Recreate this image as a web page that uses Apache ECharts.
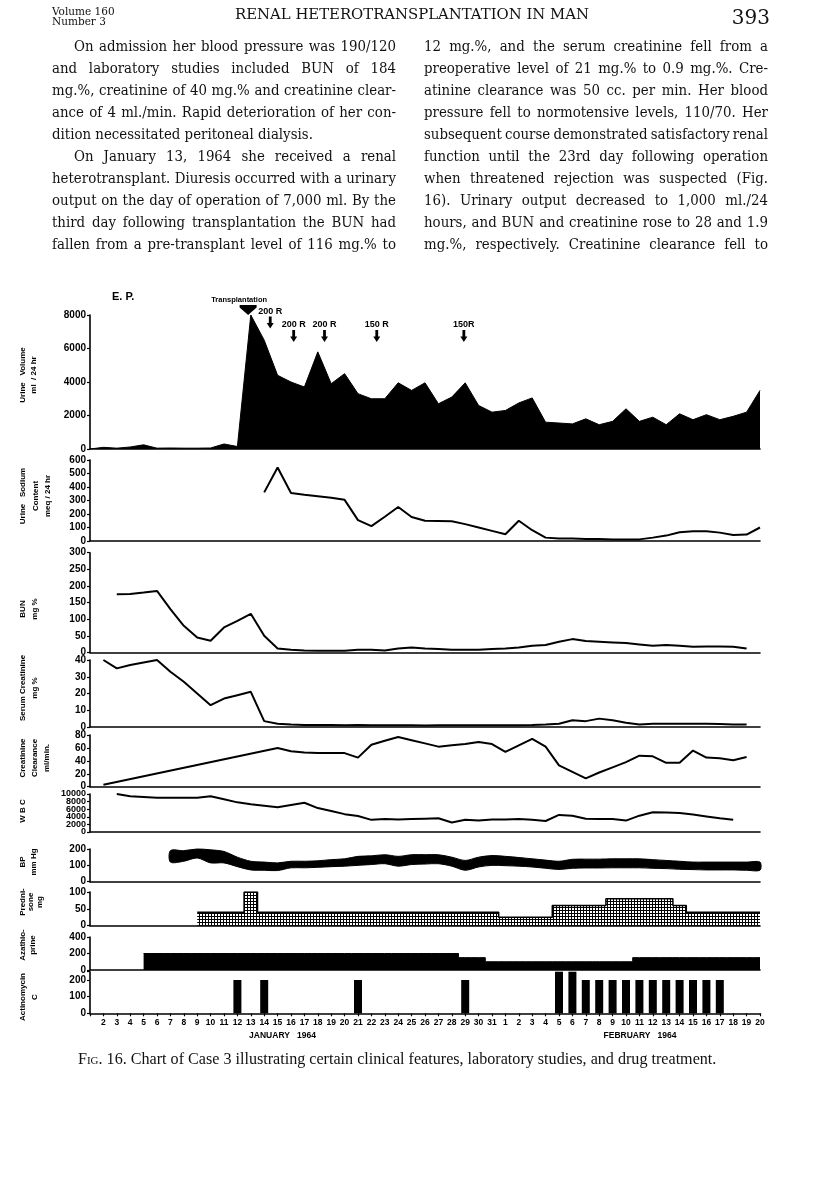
<!DOCTYPE html>
<html><head><meta charset="utf-8">
<script src="https://cdn.jsdelivr.net/npm/echarts@6/dist/echarts.min.js"></script>
<style>
html,body{margin:0;padding:0;background:#fff;}
#wrap{position:relative;width:816px;height:1195px;overflow:hidden;background:#fff;}
#chart{position:absolute;left:0;top:0;width:816px;height:1195px;}
.tx{position:absolute;white-space:nowrap;color:#111;z-index:5;transform-origin:0 50%;}
</style></head>
<body><div id="wrap"><div id="chart"></div></div>
<script>
// ---------------- DATA ----------------
// day index: Jan d -> d, Feb d -> 31 + d
const dayLabels = ['', '2','3','4','5','6','7','8','9','10','11','12','13','14','15','16','17','18','19','20','21','22','23','24','25','26','27','28','29','30','31',
  '1','2','3','4','5','6','7','8','9','10','11','12','13','14','15','16','17','18','19','20'];
const monthLabels = ['JANUARY   1964', 'FEBRUARY   1964'];
const wbcTickLabels = [0, 2000, 4000, 6000, 8000, 10000];

// Urine volume ml/24hr, Jan 1 .. Feb 20
const urineVolume = [0,100,50,120,250,50,60,50,50,60,300,150,8000,6500,4400,4000,3700,5800,3900,4500,3300,3000,3000,3950,3500,3950,2700,3100,3950,2600,2200,
  2300,2750,3050,1600,1550,1500,1800,1450,1650,2400,1650,1900,1450,2100,1750,2050,1750,1950,2200,3500];
const urineVolumeStart = 1;

// Urine sodium meq/24hr, Jan 14 .. Feb 20
const urineSodium = [360,545,355,343,332,320,305,155,110,180,252,178,150,148,146,125,100,75,
  50,150,80,25,18,18,15,15,12,12,12,25,40,65,72,72,62,45,48,100];
const urineSodiumStart = 14;

// BUN mg %, Jan 3 .. Feb 19
const bun = [175,176,180,185,130,80,45,35,75,95,116,50,12,8,6,5,5,5,8,8,6,12,15,12,10,8,8,8,10,
  12,15,20,22,32,40,34,32,30,28,24,20,22,20,17,18,18,17,12];
const bunStart = 3;

// Serum creatinine mg %, Jan 2 .. Feb 19
const serumCreatinine = [40,35,37,38.5,40,33,27,20,13,17,19,21,3.5,2,1.5,1.2,1.2,1.2,1.1,1.2,1,1,1,1,0.9,1,1,1,1,1,
  1,1,1.2,1.5,1.9,4,3.5,5,4,2.5,1.5,2,2,2,2,2,1.8,1.5,1.5];
const serumCreatinineStart = 2;

// Creatinine clearance ml/min (measured days)
const clearanceDays = [2,15,16,17,18,19,20,21,22,23,24,25,26,27,28,29,30,31,32,33,34,35,36,37,38,39,40,41,42,43,44,45,46,47,48,49,50];
const clearanceValues = [3,60,55,53,52,52,52,45,65,71,77,72,67,62,64,66,69,66,54,64,74,62,33,23,13,22,30,38,48,47,37,37,56,45,44,41,46];

// WBC, Jan 3 .. Feb 18
const wbc = [10000,9400,9200,9000,9000,9000,9000,9400,8600,7800,7300,6900,6500,7100,7700,6300,5500,4700,4200,3200,3400,3300,3400,3500,3600,2500,3200,3000,3300,
  3300,3400,3200,2900,4500,4300,3500,3400,3400,3000,4300,5200,5100,5000,4600,4100,3600,3200];
const wbcStart = 3;

// Blood pressure mm Hg, Jan 7 .. Feb 20
const bpSystolic = [190,190,200,195,185,150,125,120,115,125,125,128,135,140,155,158,165,155,165,165,165,150,130,150,160,
  155,148,140,132,125,137,138,138,140,140,140,135,130,125,120,120,120,120,120,120];
const bpDiastolic = [120,125,145,115,115,92,72,70,68,85,85,88,92,95,100,105,110,95,105,108,110,95,70,90,100,
  98,95,90,82,75,82,84,84,85,85,85,82,80,76,74,72,72,72,70,70];
const bpStart = 7;

// Prednisone mg, Jan 9 .. Feb 20
const prednisone = [40,40,40,40,100,40,40,40,40,40,40,40,40,40,40,40,40,40,40,40,40,40,40,
  25,25,25,25,60,60,60,60,80,80,80,80,80,60,40,40,40,40,40,40];
const prednisoneStart = 9;

// Azathioprine mg, Jan 5 .. Feb 20
const azathioprine = [200,200,200,200,200,200,200,200,200,200,200,200,200,200,200,200,200,200,200,200,200,200,200,200,150,150,
  100,100,100,100,100,100,100,100,100,100,100,150,150,150,150,150,150,150,150,150,150];
const azathioprineStart = 5;

// Actinomycin C
const actinomycinDays = [12,14,21,29,36,37,38,39,40,41,42,43,44,45,46,47,48];
const actinomycinDoses = [200,200,200,200,250,250,200,200,200,200,200,200,200,200,200,200,200];

// X-ray annotations
const radiationLabels = ['200 R','200 R','200 R','150 R','150R'];
const radiationDays = [14.45,16.2,18.5,22.4,28.9];
const transplantDay = 12.8;

// ---------------- HELPERS ----------------
function pairs(start, arr){ return arr.map((v,i)=>[start+i, v]); }
const SANS = '"Liberation Sans", Arial, sans-serif';

// stipple (halftone) pattern for prednisone
const pc = document.createElement('canvas'); pc.width = 3; pc.height = 3;
const pg = pc.getContext('2d');
pg.fillStyle = '#fff'; pg.fillRect(0,0,3,3);
pg.fillStyle = '#000';
[[1,0],[0,1],[1,1],[2,1],[1,2]].forEach(p=>pg.fillRect(p[0],p[1],1,1));

// ---------------- LAYOUT ----------------
const WBC = 5;
const panels = [
  {top:315,   h:134,  max:8000,  interval:2000},
  {top:460,   h:81,   max:600,   interval:100},
  {top:552.7, h:99.7, max:300,   interval:50},
  {top:660,   h:67,   max:40,    interval:10},
  {top:735,   h:51.7, max:80,    interval:20},
  {top:794,   h:38,   max:10000, interval:2000},
  {top:849,   h:32.7, max:200,   interval:100},
  {top:892,   h:33.7, max:100,   interval:50},
  {top:937,   h:33,   max:400,   interval:200},
  {top:971.7, h:41.6, max:250,   interval:100, hideOdd:true}
];
const last = panels.length - 1;

const grid = panels.map(p=>({left:90, width:670, top:p.top, height:p.h, containLabel:false}));
const xAxis = panels.map((p,i)=>({
  gridIndex:i, type:'value', min:1, max:51, interval:1, z:5,
  axisLine:{show:true, onZero:false, lineStyle:{color:'#000', width:1.6}},
  axisTick:{show:i===last, length:3, lineStyle:{color:'#000', width:1.2}},
  axisLabel:{show:i===last, interval:0, margin:5, fontSize:8.5, fontWeight:'bold', color:'#000', fontFamily:SANS,
    showMinLabel:true, showMaxLabel:true, formatter:v=>dayLabels[Math.round(v)-1] || ''},
  splitLine:{show:false}
}));
const yAxis = panels.map((p,i)=>({
  gridIndex:i, type:'value', min:0, max:p.max, interval:p.interval,
  axisLine:{show:true, lineStyle:{color:'#000', width:1.6}},
  axisTick:{show:true, length:3, lineStyle:{color:'#000', width:1.2}},
  axisLabel:{show:i!==WBC, margin:4, fontSize:10, fontWeight:'bold', color:'#000', fontFamily:SANS,
    showMinLabel:true, showMaxLabel:true, hideOverlap:false,
    formatter:v=> (p.hideOdd && v % p.interval) ? '' : String(v)},
  splitLine:{show:false}
}));

const lineBase = (i, data) => ({type:'line', xAxisIndex:i, yAxisIndex:i, data, symbol:'none',
  lineStyle:{color:'#000', width:2}, itemStyle:{color:'#000'}});

const arrowPath = 'path://M3,0L7,0L7,7L10,7L5,13L0,7L3,7Z';
const markData = [{
  name:'Transplantation', coord:[transplantDay, 8000], symbol:'path://M0,0L24,0L24,3L12,12L0,3Z',
  symbolSize:[17,10], symbolOffset:[0,-5],
  label:{show:true, position:'top', distance:1, offset:[-9,0], formatter:'{b}', fontSize:7.5, fontWeight:'bold', color:'#000', fontFamily:SANS}
}].concat(radiationDays.map((d,i)=>({
  name:radiationLabels[i], coord:[d, i===0 ? 7550 : 6750], symbol:arrowPath, symbolSize:[7,12],
  label:{show:true, position:'top', distance:1, formatter:'{b}', fontSize:9, fontWeight:'bold', color:'#000', fontFamily:SANS}
})));

const series = [
  Object.assign(lineBase(0, pairs(urineVolumeStart, urineVolume)), {
    lineStyle:{color:'#000', width:1}, areaStyle:{color:'#000', opacity:1},
    markPoint:{silent:true, itemStyle:{color:'#000'}, data:markData}
  }),
  lineBase(1, pairs(urineSodiumStart, urineSodium)),
  lineBase(2, pairs(bunStart, bun)),
  lineBase(3, pairs(serumCreatinineStart, serumCreatinine)),
  lineBase(4, clearanceDays.map((d,i)=>[d, clearanceValues[i]])),
  lineBase(5, pairs(wbcStart, wbc)),
  {type:'custom', xAxisIndex:6, yAxisIndex:6, data:pairs(bpStart, bpSystolic), encode:{x:0, y:1}, clip:false,
    renderItem:(params, api)=>{
      if (params.dataIndex !== 0) return null;
      const topPts = bpSystolic.map((v,i)=>api.coord([bpStart+i, v]));
      const botPts = bpDiastolic.map((v,i)=>api.coord([bpStart+i, v])).reverse();
      return {type:'polygon', shape:{points:topPts.concat(botPts), smooth:0.3},
        style:{fill:'#000', stroke:'#000', lineWidth:1}};
    }},
  Object.assign(lineBase(7, pairs(prednisoneStart, prednisone)), {step:'middle', lineStyle:{color:'#000', width:1.5},
    areaStyle:{color:{image:pc, repeat:'repeat'}, opacity:1}}),
  Object.assign(lineBase(8, pairs(azathioprineStart, azathioprine)), {step:'middle', lineStyle:{color:'#000', width:1},
    areaStyle:{color:'#000', opacity:1}}),
  {type:'bar', xAxisIndex:9, yAxisIndex:9, barWidth:8, itemStyle:{color:'#000'},
    data:actinomycinDays.map((d,i)=>[d, actinomycinDoses[i]])}
];

// axis names (rotated) and other chart texts
const axisNames = [
  {t:'Urine   Volume\nml  / 24 hr', x:28.5, y:375, lh:11},
  {t:'Urine   Sodium\nContent\nmeq / 24 hr', x:35.5, y:496, lh:12.5},
  {t:'BUN\nmg %', x:29, y:609, lh:12},
  {t:'Serum Creatinine\nmg %', x:29, y:688, lh:12},
  {t:'Creatinine\nClearance\nml/min.', x:35, y:758, lh:12},
  {t:'W B C', x:23, y:811, lh:12},
  {t:'BP\nmm Hg', x:28.5, y:862, lh:11},
  {t:'Predni-\nsone\nmg', x:31, y:902, lh:8.5},
  {t:'Azathio-\nprine', x:28, y:945, lh:10},
  {t:'Actinomycin\nC', x:29, y:997, lh:12}
];
const graphic = axisNames.map(n=>({
  type:'text', x:n.x, y:n.y, rotation:Math.PI/2, silent:true,
  style:{text:n.t, font:'bold 8px '+SANS, fill:'#000', align:'center', verticalAlign:'middle',
    textAlign:'center', textVerticalAlign:'middle', lineHeight:n.lh}
})).concat([
  {type:'text', x:112, y:297, silent:true, style:{text:'E. P.', font:'bold 11px '+SANS, fill:'#000', align:'left', verticalAlign:'middle', textAlign:'left', textVerticalAlign:'middle'}},
  {type:'text', x:282.5, y:1036, silent:true, style:{text:monthLabels[0], font:'bold 8.5px '+SANS, fill:'#000', align:'center', verticalAlign:'middle', textAlign:'center', textVerticalAlign:'middle'}},
  {type:'text', x:640, y:1036, silent:true, style:{text:monthLabels[1], font:'bold 8.5px '+SANS, fill:'#000', align:'center', verticalAlign:'middle', textAlign:'center', textVerticalAlign:'middle'}}
]);

const chart = echarts.init(document.getElementById('chart'), null, {renderer:'canvas'});
chart.setOption({animation:false, backgroundColor:'#fff', grid, xAxis, yAxis, series, graphic});

// WBC tick labels overlap in the original: place them at the axis' own tick positions
const wbcLabelGraphics = wbcTickLabels.map(v=>({
  type:'text', x:86, y:chart.convertToPixel({yAxisIndex:WBC}, v), silent:true,
  style:{text:String(v), font:'bold 9px '+SANS, fill:'#000', align:'right', verticalAlign:'middle',
    textAlign:'right', textVerticalAlign:'middle'}
}));
chart.setOption({graphic: graphic.concat(wbcLabelGraphics)});

// ---------------- PAGE TEXT ----------------
const wrap = document.getElementById('wrap');
const SERIF = '"DejaVu Serif", "Liberation Serif", serif';
const TIMES = '"Liberation Serif", "DejaVu Serif", serif';
function makeDiv(html, family, size){
  const d = document.createElement('div');
  d.className = 'tx';
  d.innerHTML = html;
  d.style.fontFamily = family;
  d.style.fontSize = size + 'px';
  d.style.lineHeight = (size*1.2) + 'px';
  wrap.appendChild(d);
  return d;
}
function place(d, x, yc, size, align){
  const w = d.getBoundingClientRect().width;
  let left = x;
  if (align === 'center') left = x - w/2;
  if (align === 'right') left = x - w;
  d.style.left = left + 'px';
  d.style.top = (yc - size*0.6) + 'px';
}
function fitText(html, family, x, yc, width, baseSize, align){
  const d = makeDiv(html, family, baseSize);
  const w = d.getBoundingClientRect().width;
  const size = baseSize * width / w;
  d.style.fontSize = size + 'px';
  d.style.lineHeight = (size*1.2) + 'px';
  place(d, x, yc, size, align);
  return d;
}
// a line drawn at a given size, horizontally condensed by sx, optionally justified to width
function bodyLine(text, family, x, yc, width, size, sx, justify){
  const d = makeDiv(text, family, size);
  const w = d.getBoundingClientRect().width;
  if (justify){
    const spaces = (text.match(/ /g) || []).length;
    if (spaces) d.style.wordSpacing = ((width / sx - w)/spaces) + 'px';
  }
  d.style.transform = 'scaleX(' + sx + ')';
  d.style.left = x + 'px';
  d.style.top = (yc - size*0.6) + 'px';
}

makeDiv('Volume 160', SERIF, 10.5).style.cssText += 'left:52px;top:6px;line-height:11px;';
makeDiv('Number 3', SERIF, 10.5).style.cssText += 'left:52px;top:16px;line-height:11px;';
fitText('RENAL HETEROTRANSPLANTATION IN MAN', SERIF, 412, 15, 354, 14, 'center');
place(makeDiv('393', SERIF, 20), 770, 17, 20, 'right');

const leftLines = [
  'On admission her blood pressure was 190/120',
  'and laboratory studies included BUN of 184',
  'mg.%, creatinine of 40 mg.% and creatinine clear-',
  'ance of 4 ml./min. Rapid deterioration of her con-',
  'dition necessitated peritoneal dialysis.',
  'On January 13, 1964 she received a renal',
  'heterotransplant. Diuresis occurred with a urinary',
  'output on the day of operation of 7,000 ml. By the',
  'third day following transplantation the BUN had',
  'fallen from a pre-transplant level of 116 mg.% to'
];
const rightLines = [
  '12 mg.%, and the serum creatinine fell from a',
  'preoperative level of 21 mg.% to 0.9 mg.%. Cre-',
  'atinine clearance was 50 cc. per min. Her blood',
  'pressure fell to normotensive levels, 110/70. Her',
  'subsequent course demonstrated satisfactory renal',
  'function until the 23rd day following operation',
  'when threatened rejection was suspected (Fig.',
  '16). Urinary output decreased to 1,000 ml./24',
  'hours, and BUN and creatinine rose to 28 and 1.9',
  'mg.%, respectively. Creatinine clearance fell to'
];
const colW = 344, lx = 52, rx = 424, indent = 22, ly0 = 46, lstep = 22, fsz = 15;
// horizontal condensing so that the densest line just fits its column (tight word gaps)
let maxRatio = 0;
leftLines.concat(rightLines).forEach((t)=>{
  const d = makeDiv(t, SERIF, fsz);
  const spaces = (t.match(/ /g) || []).length;
  maxRatio = Math.max(maxRatio, (d.getBoundingClientRect().width - spaces*1.2) / colW);
  d.remove();
});
const sx = Math.min(1, 1 / maxRatio);
leftLines.forEach((t,i)=>{
  const ind = (i===0 || i===5) ? indent : 0;
  bodyLine(t, SERIF, lx + ind, ly0 + i*lstep, colW - ind, fsz, sx, i !== 4);
});
rightLines.forEach((t,i)=>{
  bodyLine(t, SERIF, rx, ly0 + i*lstep, colW, fsz, sx, true);
});
fitText('<span style="font-variant:small-caps">Fig.</span> 16. Chart of Case 3 illustrating certain clinical features, laboratory studies, and drug treatment.',
  TIMES, 78, 1059, 640, 15, 'left');
</script>
</body></html>
